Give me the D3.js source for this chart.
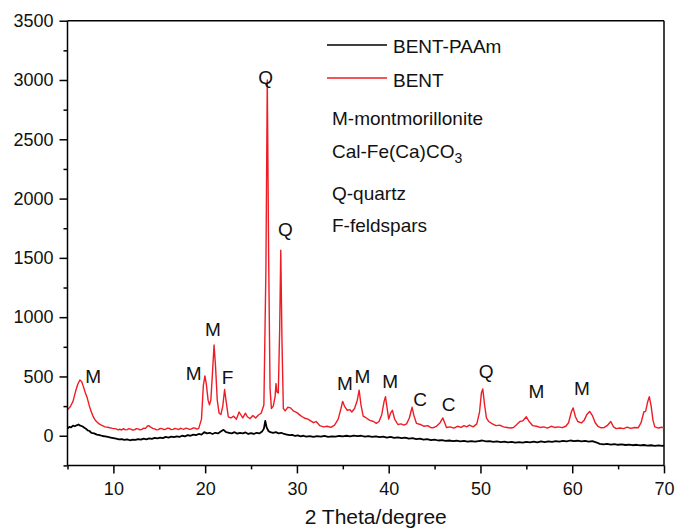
<!DOCTYPE html>
<html>
<head>
<meta charset="utf-8">
<script src="https://cdn.jsdelivr.net/npm/d3@7/dist/d3.min.js"></script>
<style>
  html, body { margin: 0; padding: 0; background: #fff; }
  svg { display: block; font-family: "Liberation Sans", Arial, sans-serif; }
</style>
</head>
<body>
<svg id="chart" width="677" height="530"></svg>
<script>
// ---------------- data ----------------
const seriesNames = ["BENT-PAAm", "BENT"];

// BENT (red) : [2theta, intensity]
const bent = [
[5.0,220],[5.3,245],[5.6,290],[5.9,380],[6.1,430],[6.35,470],[6.55,455],[6.75,410],[6.95,360],[7.15,320],
[7.35,260],[7.55,210],[7.75,170],[7.95,140],[8.15,120],[8.45,100],[8.75,88],[9.1,75],[9.5,70],[9.9,62],
[10.3,58],[10.5,50],[10.7,55],[10.9,48],[11.1,60],[11.3,50],[11.5,52],[11.7,60],[11.9,56],[12.1,48],[12.3,50],[12.5,60],[12.7,58],[12.9,50],[13.1,54],[13.3,64],[13.5,62],[13.7,80],[13.85,85],
[14.1,70],[14.3,62],[14.5,58],[14.7,50],[14.9,52],[15.1,62],[15.3,60],[15.5,52],[15.7,55],[15.9,64],[16.1,62],[16.3,52],[16.5,54],[16.7,62],[16.9,58],[17.1,52],[17.3,63],[17.5,58],[17.7,55],
[17.9,64],[18.1,60],[18.3,54],[18.5,57],[18.7,66],[18.9,64],[19.1,56],[19.3,62],[19.6,140],[19.8,420],[19.97,505],[20.12,440],[20.32,300],[20.47,260],
[20.62,300],[20.82,560],[20.97,765],[21.12,600],[21.32,300],[21.52,190],[21.72,180],[21.92,250],[22.12,390],[22.27,300],
[22.52,160],[22.8,150],[23.1,165],[23.4,140],[23.7,200],[23.9,175],[24.1,150],[24.4,190],[24.6,160],[24.9,145],
[25.2,170],[25.5,150],[25.8,175],[26.1,190],[26.4,260],[26.62,1400],[26.77,3000],[26.92,1500],[27.07,400],[27.22,230],
[27.42,250],[27.62,330],[27.72,440],[27.82,370],[27.97,360],[28.12,900],[28.24,1565],[28.37,800],[28.52,230],[28.72,210],
[29.0,240],[29.3,235],[29.6,210],[30.0,195],[30.4,170],[30.8,150],[31.2,140],[31.5,125],[31.8,110],[32.1,120],
[32.5,85],[32.9,75],[33.3,80],[33.7,70],[34.1,90],[34.5,140],[34.8,230],[34.98,290],[35.18,250],[35.48,215],
[35.78,220],[35.98,200],[36.28,230],[36.58,300],[36.78,385],[36.98,260],[37.22,165],[37.55,150],[37.95,130],[38.35,120],
[38.65,105],[38.95,120],[39.25,180],[39.5,290],[39.65,330],[39.85,220],[40.0,140],[40.2,190],[40.4,215],[40.65,140],
[41.0,95],[41.35,100],[41.65,90],[41.95,100],[42.25,150],[42.55,240],[42.75,170],[43.02,105],[43.45,95],[43.85,80],
[44.25,85],[44.55,70],[44.85,68],[45.2,80],[45.6,110],[45.9,150],[46.1,110],[46.3,70],[46.7,75],[47.1,65],
[47.5,80],[47.9,70],[48.2,85],[48.5,75],[48.8,90],[49.2,75],[49.6,100],[49.9,200],[50.1,360],[50.25,395],
[50.45,260],[50.65,150],[50.9,120],[51.3,100],[51.7,85],[52.1,90],[52.5,75],[52.9,70],[53.3,65],[53.6,70],
[53.9,90],[54.3,120],[54.6,125],[55.0,160],[55.3,120],[55.7,85],[56.1,80],[56.5,70],[56.9,75],[57.3,65],
[57.7,80],[58.1,70],[58.5,75],[58.9,68],[59.3,80],[59.6,110],[59.9,200],[60.1,235],[60.35,160],[60.6,120],
[61.0,108],[61.3,130],[61.6,180],[61.9,205],[62.2,170],[62.5,110],[62.8,80],[63.1,68],[63.5,70],[63.8,85],
[64.2,120],[64.5,75],[64.8,60],[65.2,65],[65.6,60],[66.0,72],[66.4,62],[66.8,70],[67.2,68],[67.5,110],
[67.8,200],[68.0,205],[68.2,280],[68.4,330],[68.6,250],[68.8,130],[69.0,75],[69.4,65],[69.7,72],[70.0,67]
];

// BENT-PAAm (black) : [2theta, intensity]
const bentPaam = [
[5.0,60],[5.2,75],[5.4,70],[5.6,85],[5.8,80],[6.0,88],[6.2,95],[6.4,85],[6.6,80],[6.8,70],
[7.0,60],[7.2,45],[7.4,40],[7.6,25],[7.9,20],[8.2,10],[8.5,5],[8.8,-2],[9.1,-5],[9.4,-10],
[9.7,-15],[10.0,-20],[10.3,-25],[10.6,-30],[10.9,-28],[11.2,-35],[11.5,-30],[11.8,-38],[12.1,-32],[12.4,-35],
[12.7,-28],[13.0,-33],[13.3,-25],[13.6,-30],[13.9,-22],[14.2,-26],[14.5,-18],[14.8,-22],[15.1,-15],[15.4,-20],
[15.7,-10],[16.0,-15],[16.3,-8],[16.6,-12],[16.9,-5],[17.2,-10],[17.5,0],[17.8,-5],[18.1,5],[18.4,0],
[18.7,10],[19.0,5],[19.3,15],[19.6,10],[19.9,30],[20.2,20],[20.5,25],[20.8,15],[21.1,25],[21.4,20],
[21.7,35],[22.0,50],[22.3,30],[22.6,25],[22.9,20],[23.2,30],[23.5,18],[23.8,25],[24.1,20],[24.4,28],
[24.7,15],[25.0,22],[25.3,15],[25.6,25],[25.9,20],[26.2,35],[26.4,60],[26.55,125],[26.7,70],[26.9,40],
[27.1,30],[27.4,25],[27.7,30],[28.0,20],[28.3,25],[28.6,15],[28.9,10],[29.2,5],[29.5,8],[29.8,-2],
[30.1,3],[30.4,-5],[30.7,0],[31.0,-8],[31.4,-3],[31.8,-10],[32.2,-4],[32.6,-8],[33.0,-2],[33.4,-10],
[33.8,-5],[34.2,-8],[34.6,-2],[35.0,-6],[35.4,0],[35.8,-5],[36.2,2],[36.6,-4],[37.0,0],[37.4,-8],
[37.8,-3],[38.2,-10],[38.6,-5],[39.0,-12],[39.4,-8],[39.8,-15],[40.2,-10],[40.6,-18],[41.0,-14],[41.4,-20],
[41.8,-16],[42.2,-24],[42.6,-20],[43.0,-28],[43.4,-24],[43.8,-32],[44.2,-28],[44.6,-36],[45.0,-32],[45.4,-40],
[45.8,-36],[46.2,-44],[46.6,-40],[47.0,-46],[47.4,-42],[47.8,-48],[48.2,-44],[48.6,-50],[49.0,-46],[49.4,-50],
[49.8,-45],[50.2,-40],[50.6,-48],[51.0,-45],[51.4,-52],[51.8,-48],[52.2,-54],[52.6,-50],[53.0,-56],[53.4,-52],
[53.8,-58],[54.2,-54],[54.6,-58],[55.0,-52],[55.4,-56],[55.8,-50],[56.2,-55],[56.6,-48],[57.0,-53],[57.4,-47],
[57.8,-52],[58.2,-46],[58.6,-50],[59.0,-44],[59.4,-48],[59.8,-40],[60.2,-46],[60.6,-42],[61.0,-48],[61.4,-44],
[61.8,-50],[62.2,-46],[62.6,-55],[63.0,-68],[63.4,-72],[63.8,-68],[64.2,-74],[64.6,-70],[65.0,-76],[65.4,-72],
[65.8,-78],[66.2,-74],[66.6,-80],[67.0,-76],[67.4,-82],[67.8,-78],[68.2,-84],[68.6,-80],[69.0,-85],[69.4,-81],
[69.8,-86],[70.0,-83]
];

// peak annotations: [letter, 2theta, intensity]
const peakLabels = [
["M",7.79,446],["M",18.76,471],["M",20.84,841],["F",22.45,437],
["Q",26.6,2970],["Q",28.74,1683],["M",35.24,387],["M",37.15,446],
["M",40.15,404],["C",43.43,252],["C",46.53,210],["Q",50.63,488],
["M",56.09,320],["M",61.06,345]
];

const phaseNotes = ["M-montmorillonite", "Cal-Fe(Ca)CO", "Q-quartz", "F-feldspars"];

const xMajorTicks = [10,20,30,40,50,60,70];
const xMinorTicks = [5,15,25,35,45,55,65];
const yMajorTicks = [0,500,1000,1500,2000,2500,3000,3500];
const yMinorTicks = [-250,250,750,1250,1750,2250,2750,3250];
const xTitle = "2 Theta/degree";

// ---------------- layout ----------------
const svg = d3.select("#chart");
const pL = 67.5, pR = 664, pT = 20.7, pB = 465.4;
const x = d3.scaleLinear().domain([5,70]).range([pL,pR]);
const y = d3.scaleLinear().domain([-250,3500]).range([pB,pT]);

svg.append("rect").attr("width",677).attr("height",530).attr("fill","#fff");

// frame (top & right)
svg.append("line").attr("x1",pL).attr("x2",pR).attr("y1",pT).attr("y2",pT)
  .attr("stroke","#000").attr("stroke-width",1.5);
svg.append("line").attr("x1",pR).attr("x2",pR).attr("y1",pT).attr("y2",pB)
  .attr("stroke","#000").attr("stroke-width",1.5);

// lines
const line = d3.line().x(d=>x(d[0])).y(d=>y(d[1]));
svg.append("path").datum(bentPaam).attr("d",line).attr("fill","none")
  .attr("stroke","#000").attr("stroke-width",1.8).attr("stroke-linejoin","round");
svg.append("path").datum(bent).attr("d",line).attr("fill","none")
  .attr("stroke","#ee1c25").attr("stroke-width",1.4).attr("stroke-linejoin","round");

// axes
const fs = 18;
const gx = svg.append("g").attr("transform",`translate(0,${pB})`)
  .call(d3.axisBottom(x).tickValues(xMajorTicks).tickFormat(d3.format("d")).tickSize(8).tickPadding(9));
svg.append("g").attr("transform",`translate(0,${pB})`)
  .call(d3.axisBottom(x).tickValues(xMinorTicks).tickFormat("").tickSize(4))
  .select(".domain").remove();
const gy = svg.append("g").attr("transform",`translate(${pL},0)`)
  .call(d3.axisLeft(y).tickValues(yMajorTicks).tickFormat(d3.format("d")).tickSize(8).tickPadding(6));
svg.append("g").attr("transform",`translate(${pL},0)`)
  .call(d3.axisLeft(y).tickValues(yMinorTicks).tickFormat("").tickSize(4))
  .select(".domain").remove();

svg.selectAll(".domain").attr("stroke","#000").attr("stroke-width",1.5);
svg.selectAll(".tick line").attr("stroke","#000").attr("stroke-width",1.5);
svg.selectAll(".tick text").attr("font-size",fs).attr("fill","#111")
  .attr("font-family","'Liberation Sans', Arial, sans-serif");
gx.selectAll(".domain").attr("d",`M${pL},0H${pR}`);
gy.selectAll(".domain").attr("d",`M0,${pB}V${pT}`);

// x title
svg.append("text").attr("x",(pL+pR)/2+10).attr("y",524).attr("text-anchor","middle")
  .attr("font-size",21).attr("fill","#111").text(xTitle);

// legend
const legendRows = [
  {name: seriesNames[0], color: "#000", ly: 45, ty: 53},
  {name: seriesNames[1], color: "#ee1c25", ly: 78, ty: 87}
];
legendRows.forEach(r => {
  svg.append("line").attr("x1",327).attr("x2",387).attr("y1",r.ly).attr("y2",r.ly)
    .attr("stroke",r.color).attr("stroke-width",1.3);
  svg.append("text").attr("x",393).attr("y",r.ty).attr("font-size",19).attr("fill","#111").text(r.name);
});

const noteY = [125, 158, 200, 232];
phaseNotes.forEach((t,i) => {
  const tx = svg.append("text").attr("x",332).attr("y",noteY[i]).attr("font-size",19).attr("fill","#111").text(t);
  if (i === 1) tx.append("tspan").attr("dy",5).attr("font-size",14).text("3");
});

// peak labels
svg.selectAll(".peak").data(peakLabels).enter().append("text")
  .attr("class","peak")
  .attr("x",d=>x(d[1])).attr("y",d=>y(d[2]))
  .attr("text-anchor","middle").attr("font-size",19).attr("fill","#111")
  .text(d=>d[0]);
</script>
</body>
</html>
